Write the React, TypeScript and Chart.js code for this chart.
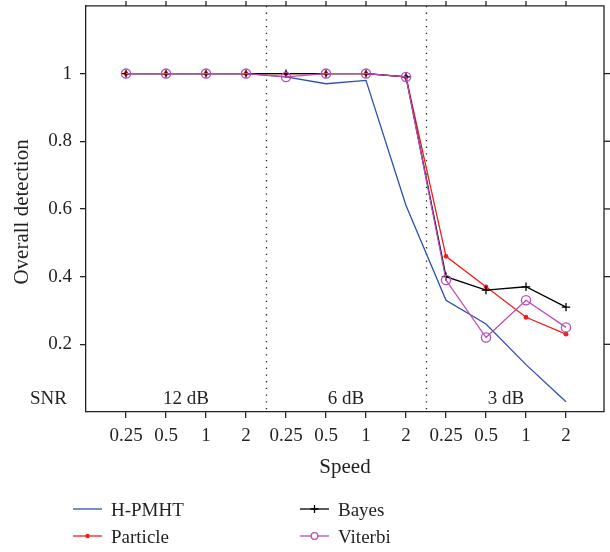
import React, { useEffect, useRef } from "react";
import { Chart, registerables } from "chart.js";

Chart.register(...registerables);

const speedLabels = ["0.25", "0.5", "1", "2", "0.25", "0.5", "1", "2", "0.25", "0.5", "1", "2"];
const speedIndex = [1, 2, 3, 4, 5, 6, 7, 8, 9, 10, 11, 12];
const snrGroups = ["12 dB", "6 dB", "3 dB"];
const snrCenters = [2.5, 6.5, 10.5];
const snrDividers = [4.5, 8.5];
const yTicks = [0.2, 0.4, 0.6, 0.8, 1];

const hpmht = [1, 1, 1, 1, 0.99, 0.97, 0.98, 0.61, 0.33, 0.26, 0.14, 0.03];
const particle = [1, 1, 1, 1, 1, 1, 1, 0.99, 0.46, 0.37, 0.28, 0.23];
const bayes = [1, 1, 1, 1, 1, 1, 1, 0.99, 0.4, 0.36, 0.37, 0.31];
const viterbi = [1, 1, 1, 1, 0.99, 1, 1, 0.99, 0.39, 0.22, 0.33, 0.25];

const FONT = "'Liberation Serif', 'DejaVu Serif', serif";
const TXT = "#231f20";
const AXIS = "#222";
const BLUE = "#2f4fae";
const RED = "#f21d1d";
const BLACK = "#000000";
const MAGENTA = "#b84cb8";

const toPts = (arr: number[]) => arr.map((v, i) => ({ x: speedIndex[i], y: v }));

const decor = {
  id: "decor",
  beforeDatasetsDraw(chart: any) {
    const { ctx, chartArea: a, scales } = chart;
    const x = scales.x;
    ctx.save();
    ctx.strokeStyle = AXIS;
    ctx.lineWidth = 1.3;
    ctx.setLineDash([1.3, 5.4]);
    for (const v of snrDividers) {
      const px = Math.round(x.getPixelForValue(v)) + 0.5;
      ctx.beginPath();
      ctx.moveTo(px, a.top);
      ctx.lineTo(px, a.bottom);
      ctx.stroke();
    }
    ctx.restore();
  },
  afterDraw(chart: any) {
    const { ctx, chartArea: a, scales } = chart;
    const x = scales.x;
    const y = scales.y;
    ctx.save();
    ctx.strokeStyle = AXIS;
    ctx.lineWidth = 1.3;
    ctx.setLineDash([]);
    ctx.beginPath();
    ctx.moveTo(a.left, a.top);
    ctx.lineTo(a.right, a.top);
    ctx.lineTo(a.right, a.bottom);
    ctx.stroke();
    for (const v of speedIndex) {
      const px = x.getPixelForValue(v);
      ctx.beginPath();
      ctx.moveTo(px, a.top);
      ctx.lineTo(px, a.top - 5);
      ctx.stroke();
    }
    for (const v of yTicks) {
      const py = y.getPixelForValue(v);
      ctx.beginPath();
      ctx.moveTo(a.right, py);
      ctx.lineTo(a.right + 6, py);
      ctx.stroke();
    }
    ctx.fillStyle = TXT;
    ctx.font = `19px ${FONT}`;
    ctx.textBaseline = "middle";
    ctx.textAlign = "center";
    snrGroups.forEach((g, i) => {
      ctx.fillText(g, x.getPixelForValue(snrCenters[i]), a.bottom - 13);
    });
    ctx.textAlign = "right";
    ctx.fillText("SNR", 67, a.bottom - 13);
    ctx.font = `21px ${FONT}`;
    ctx.textAlign = "center";
    ctx.fillText("Speed", (a.left + a.right) / 2, 467);
    ctx.save();
    ctx.translate(22, (a.top + a.bottom) / 2 + 3);
    ctx.rotate(-Math.PI / 2);
    ctx.fillText("Overall detection", 0, 0);
    ctx.restore();

    const items = [
      { label: "H-PMHT", color: BLUE, marker: "none", lx: 73, ly: 509 },
      { label: "Particle", color: RED, marker: "dot", lx: 73, ly: 536 },
      { label: "Bayes", color: BLACK, marker: "plus", lx: 300, ly: 509 },
      { label: "Viterbi", color: MAGENTA, marker: "ring", lx: 300, ly: 536 },
    ];
    ctx.font = `19px ${FONT}`;
    ctx.textAlign = "left";
    for (const it of items) {
      ctx.strokeStyle = it.color;
      ctx.fillStyle = it.color;
      ctx.lineWidth = 1.3;
      ctx.beginPath();
      ctx.moveTo(it.lx, it.ly);
      ctx.lineTo(it.lx + 29, it.ly);
      ctx.stroke();
      const cx = it.lx + 14.5;
      if (it.marker === "dot") {
        ctx.beginPath();
        ctx.arc(cx, it.ly, 2.2, 0, Math.PI * 2);
        ctx.fill();
      } else if (it.marker === "plus") {
        ctx.beginPath();
        ctx.moveTo(cx - 4, it.ly);
        ctx.lineTo(cx + 4, it.ly);
        ctx.moveTo(cx, it.ly - 4);
        ctx.lineTo(cx, it.ly + 4);
        ctx.stroke();
      } else if (it.marker === "ring") {
        ctx.fillStyle = "#fff";
        ctx.beginPath();
        ctx.arc(cx, it.ly, 3.3, 0, Math.PI * 2);
        ctx.fill();
        ctx.stroke();
      }
      ctx.fillStyle = TXT;
      ctx.fillText(it.label, it.lx + 38, it.ly + 2);
    }
    ctx.restore();
  },
};

export default function App() {
  const ref = useRef<HTMLCanvasElement | null>(null);
  useEffect(() => {
    if (!ref.current) return;
    const chart = new Chart(ref.current, {
      type: "line",
      data: {
        datasets: [
          {
            label: "Viterbi",
            data: toPts(viterbi),
            borderColor: MAGENTA,
            backgroundColor: "rgba(0,0,0,0)",
            borderWidth: 1.3,
            pointStyle: "circle",
            pointRadius: 4.6,
            pointBorderWidth: 1.3,
            pointBorderColor: MAGENTA,
            pointBackgroundColor: "rgba(0,0,0,0)",
            order: 0,
          },
          {
            label: "Bayes",
            data: toPts(bayes),
            borderColor: BLACK,
            backgroundColor: BLACK,
            borderWidth: 1.3,
            pointStyle: "cross",
            pointRadius: 4.2,
            pointBorderWidth: 1.3,
            pointBorderColor: BLACK,
            order: 1,
          },
          {
            label: "Particle",
            data: toPts(particle),
            borderColor: RED,
            backgroundColor: RED,
            borderWidth: 1.3,
            pointStyle: "circle",
            pointRadius: 2.4,
            pointBorderWidth: 0,
            pointBackgroundColor: RED,
            order: 2,
          },
          {
            label: "H-PMHT",
            data: toPts(hpmht),
            borderColor: BLUE,
            backgroundColor: BLUE,
            borderWidth: 1.3,
            pointRadius: 0,
            order: 3,
          },
        ],
      },
      options: {
        animation: false,
        responsive: false,
        maintainAspectRatio: false,
        layout: { padding: { left: 0, top: 4, right: 6, bottom: 90 } },
        plugins: { legend: { display: false }, tooltip: { enabled: false } },
        scales: {
          x: {
            type: "linear",
            min: 0,
            max: 12.95,
            afterBuildTicks: (s: any) => {
              s.ticks = speedIndex.map((v) => ({ value: v }));
            },
            afterFit: (s: any) => {
              s.height = 50;
              s.paddingLeft = 0;
              s.paddingRight = 0;
            },
            ticks: {
              autoSkip: false,
              maxRotation: 0,
              padding: 7,
              color: TXT,
              font: { family: FONT, size: 19 },
              callback: (_v: any, i: number) => speedLabels[i] ?? "",
            },
            grid: { drawOnChartArea: false, tickLength: 6, color: AXIS, lineWidth: 1.3 },
            border: { color: AXIS, width: 1.3 },
          },
          y: {
            type: "linear",
            min: 0,
            max: 1.2,
            afterBuildTicks: (s: any) => {
              s.ticks = yTicks.map((v) => ({ value: v }));
            },
            afterFit: (s: any) => {
              s.width = 86;
              s.paddingTop = 0;
              s.paddingBottom = 0;
            },
            ticks: {
              padding: 8,
              color: TXT,
              font: { family: FONT, size: 19 },
              callback: (v: any) => (Math.abs(v - 1) < 1e-9 ? "1" : Number(v).toFixed(1)),
            },
            grid: { drawOnChartArea: false, tickLength: 6, color: AXIS, lineWidth: 1.3 },
            border: { color: AXIS, width: 1.3 },
          },
        },
      } as any,
      plugins: [decor],
    });
    return () => chart.destroy();
  }, []);
  return (
    <div style={{ position: "absolute", left: 0, top: 0, width: 610, height: 552, background: "#fff" }}>
      <canvas ref={ref} width={610} height={552} style={{ width: 610, height: 552, display: "block" }} />
    </div>
  );
}
